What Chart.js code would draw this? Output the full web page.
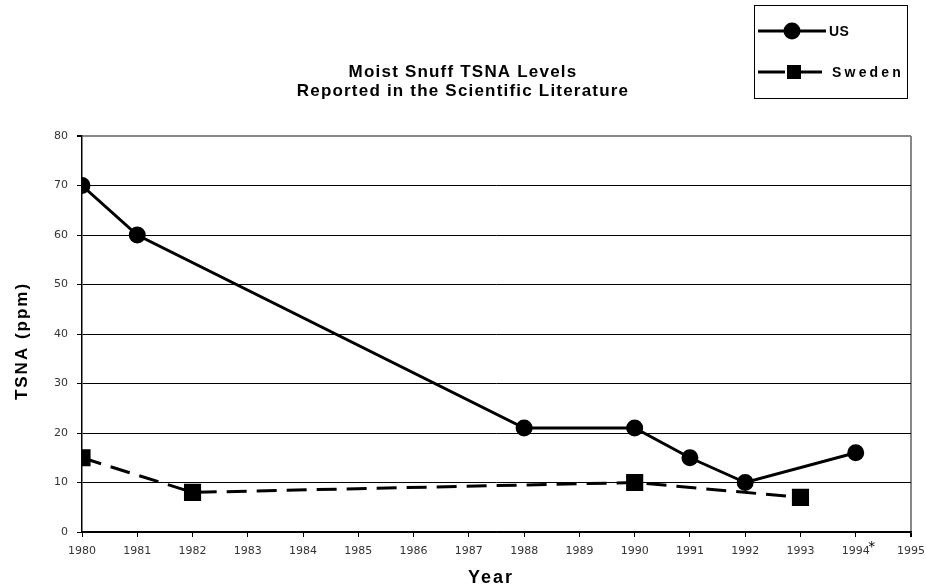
<!DOCTYPE html>
<html>
<head>
<meta charset="utf-8">
<script src="https://cdn.jsdelivr.net/npm/chart.js@4/dist/chart.umd.min.js"></script>
<style>
  html, body { margin: 0; padding: 0; background: #fff; }
  #wrap { width: 926px; height: 587px; }
</style>
</head>
<body>
<div id="wrap"><canvas id="tsnaChart"></canvas></div>
<script>
// data
const usYears = [1980, 1981, 1988, 1990, 1991, 1992, 1994];
const usTsna = [70, 60, 21, 21, 15, 10, 16];
const swedenYears = [1980, 1982, 1990, 1993];
const swedenTsna = [15, 8, 10, 7];
const yearMin = 1980;
const yearMax = 1995;
const titleLines = ['Moist Snuff TSNA Levels', 'Reported in the Scientific Literature'];

const toPoints = (xs, ys) => xs.map((x, i) => ({ x: x, y: ys[i] }));

// extra text: title, axis titles, boxed legend, asterisk on 1994
const extrasPlugin = {
    id: 'extras',
    afterDraw(chart) {
        const ctx = chart.ctx;
        const area = chart.chartArea;
        const xs = chart.scales.x;
        ctx.save();
        ctx.fillStyle = '#000';
        ctx.textAlign = 'center';
        ctx.textBaseline = 'alphabetic';

        // title
        ctx.font = 'bold 17px "Liberation Sans", Arial, sans-serif';
        ctx.letterSpacing = '1.2px';
        ctx.fillText(titleLines[0], 463, 77);
        ctx.fillText(titleLines[1], 463, 96);

        // x title
        ctx.font = 'bold 18px "Liberation Sans", Arial, sans-serif';
        ctx.letterSpacing = '2px';
        ctx.fillText('Year', 491, 583);

        // y title
        ctx.save();
        ctx.translate(27, 341);
        ctx.rotate(-Math.PI / 2);
        ctx.font = 'bold 17px "Liberation Sans", Arial, sans-serif';
        ctx.letterSpacing = '2px';
        ctx.fillText('TSNA (ppm)', 0, 0);
        ctx.restore();

        // asterisk
        ctx.letterSpacing = '0px';
        ctx.font = '14px "DejaVu Sans", sans-serif';
        ctx.fillText('*', xs.getPixelForValue(1994) + 16, 551);

        // legend box
        ctx.strokeStyle = '#000';
        ctx.lineWidth = 1;
        ctx.strokeRect(754.5, 5.5, 153, 93);

        const ds = chart.data.datasets;
        ctx.lineWidth = 3;
        // US
        ctx.beginPath();
        ctx.moveTo(758, 31);
        ctx.lineTo(826, 31);
        ctx.stroke();
        Chart.helpers.drawPoint(ctx, { pointStyle: 'circle', radius: 7, borderWidth: 1 }, 792, 31);
        ctx.fill();
        // Sweden
        ctx.beginPath();
        ctx.moveTo(758, 72);
        ctx.lineTo(785, 72);
        ctx.moveTo(801, 72);
        ctx.lineTo(822, 72);
        ctx.stroke();
        ctx.fillRect(787, 65, 14, 14);

        ctx.textAlign = 'left';
        ctx.textBaseline = 'middle';
        ctx.font = 'bold 14px "Liberation Sans", Arial, sans-serif';
        ctx.letterSpacing = '0.3px';
        ctx.fillText(ds[0].label, 829, 32);
        ctx.letterSpacing = '3.2px';
        ctx.fillText(ds[1].label, 832, 73);
        ctx.restore();
    }
};

const chartCtx = document.getElementById('tsnaChart').getContext('2d');
new Chart(chartCtx, {
    type: 'line',
    data: {
        datasets: [{
            label: 'US',
            data: toPoints(usYears, usTsna),
            borderColor: '#000',
            backgroundColor: '#000',
            borderWidth: 3,
            pointStyle: 'circle',
            pointRadius: 7,
            pointBackgroundColor: '#000',
            tension: 0
        }, {
            label: 'Sweden',
            data: toPoints(swedenYears, swedenTsna),
            borderColor: '#000',
            backgroundColor: '#000',
            borderWidth: 3,
            borderDash: [20, 10],
            pointStyle: 'rect',
            pointRadius: 10,
            pointBackgroundColor: '#000',
            tension: 0
        }]
    },
    options: {
        responsive: true,
        maintainAspectRatio: false,
        animation: false,
        layout: {
            padding: { top: 136, right: 15, bottom: 0, left: 0 }
        },
        plugins: {
            legend: { display: false },
            title: { display: false },
            tooltip: { enabled: false }
        },
        scales: {
            x: {
                type: 'linear',
                min: yearMin,
                max: yearMax,
                afterFit(scale) {
                    scale.height = 55;
                    scale.paddingLeft = 0;
                    scale.paddingRight = 0;
                },
                ticks: {
                    stepSize: 1,
                    autoSkip: false,
                    maxRotation: 0,
                    padding: 8,
                    color: '#333',
                    font: { family: '"DejaVu Sans", sans-serif', size: 11 },
                    callback: (v) => String(v)
                },
                grid: {
                    color: (c) => c.tick && c.tick.value === yearMax ? '#888' : 'rgba(0,0,0,0)',
                    lineWidth: (c) => c.tick && c.tick.value === yearMax ? 2 : 1,
                    tickColor: '#000',
                    tickLength: 5
                },
                border: { color: '#000', width: 1.5 }
            },
            y: {
                min: 0,
                max: 80,
                afterFit(scale) { scale.width = 82; },
                ticks: {
                    stepSize: 10,
                    padding: 9,
                    color: '#333',
                    font: { family: '"DejaVu Sans", sans-serif', size: 11 }
                },
                grid: {
                    color: (c) => c.tick && c.tick.value === 80 ? '#888' : '#000',
                    lineWidth: (c) => c.tick && c.tick.value === 80 ? 2 : 1,
                    tickColor: '#000',
                    tickLength: 5
                },
                border: { color: '#000', width: 1.5 }
            }
        }
    },
    plugins: [extrasPlugin]
});
</script>
</body>
</html>
